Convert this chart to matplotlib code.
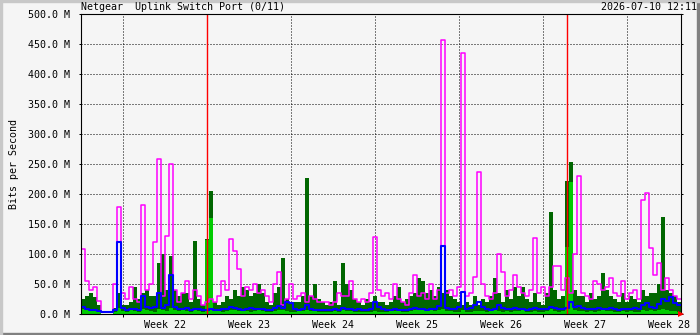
import numpy as np
import pandas as pd
import matplotlib
matplotlib.use("Agg")
import matplotlib.pyplot as plt
import matplotlib.dates as mdates
from matplotlib.patches import Rectangle

# -- Data (M bits/s), one value per 8 hours ---------------------------------
t_start = pd.Timestamp("2026-05-21 12:11")
t_end = pd.Timestamp("2026-07-10 12:11")
stamp = "2026-07-10 12:11"
title = "Netgear  Uplink Switch Port (0/11)"

max_out = [108, 55, 40, 45, 22, 3, 3, 3, 50, 178, 35, 25, 45, 25, 20, 182, 40, 50, 120, 258, 30, 130, 250, 40, 20,
           35, 55, 25, 40, 30, 15, 20, 25, 20, 30, 55, 40, 125, 105, 75, 30, 45, 40, 50, 35, 40, 30, 20, 50, 70,
           15, 25, 50, 25, 30, 35, 20, 30, 25, 20, 20, 20, 15, 20, 35, 30, 30, 55, 25, 20, 25, 20, 35, 128, 40,
           30, 35, 25, 50, 25, 20, 15, 35, 65, 30, 35, 25, 50, 25, 40, 456, 35, 40, 30, 45, 435, 30, 35, 62, 236,
           50, 30, 25, 35, 100, 70, 30, 40, 65, 45, 35, 30, 40, 126, 35, 45, 30, 45, 80, 80, 40, 60, 35, 100, 230,
           35, 30, 25, 55, 50, 40, 45, 60, 35, 30, 55, 25, 35, 40, 25, 190, 202, 110, 65, 85, 40, 60, 40, 30, 25]

max_in = [25, 30, 35, 28, 15, 0, 0, 0, 10, 35, 15, 15, 20, 45, 25, 35, 40, 30, 30, 85, 100, 40, 97, 40, 30,
          35, 35, 20, 122, 25, 15, 125, 205, 20, 15, 20, 30, 25, 40, 30, 45, 40, 30, 35, 50, 35, 20, 15, 35, 45,
          93, 25, 20, 20, 20, 30, 226, 30, 50, 25, 20, 15, 20, 55, 15, 85, 50, 40, 25, 20, 15, 25, 20, 30, 20,
          20, 15, 20, 30, 45, 20, 25, 30, 35, 60, 55, 35, 40, 30, 45, 35, 40, 30, 25, 20, 15, 20, 15, 30, 15,
          25, 20, 30, 60, 35, 20, 40, 25, 45, 30, 45, 25, 20, 35, 20, 15, 35, 170, 40, 25, 30, 222, 253, 40, 30,
          30, 20, 35, 25, 30, 68, 40, 30, 25, 20, 35, 20, 30, 25, 20, 40, 30, 35, 35, 50, 162, 40, 35, 30, 20]

avg_in = [8, 6, 5, 6, 4, 0, 0, 0, 3, 10, 5, 4, 6, 5, 4, 8, 6, 5, 4, 9, 7, 5, 10, 6, 5,
          6, 5, 4, 7, 5, 4, 123, 160, 6, 5, 4, 5, 6, 7, 5, 6, 5, 4, 5, 6, 5, 4, 4, 5, 6,
          7, 5, 4, 4, 5, 5, 6, 5, 6, 4, 4, 3, 4, 5, 4, 6, 5, 5, 4, 4, 3, 4, 4, 5, 4,
          4, 4, 5, 5, 6, 4, 4, 5, 6, 7, 6, 5, 6, 5, 6, 8, 5, 5, 4, 4, 6, 4, 4, 5, 5,
          5, 4, 5, 6, 5, 4, 5, 4, 5, 5, 6, 4, 4, 5, 4, 4, 5, 9, 5, 4, 5, 112, 220, 6, 5,
          5, 4, 5, 4, 5, 7, 5, 5, 4, 4, 5, 4, 5, 4, 4, 6, 5, 6, 5, 6, 8, 6, 5, 5, 4]

avg_out = [12, 8, 7, 6, 5, 3, 3, 3, 6, 120, 10, 6, 8, 9, 7, 30, 12, 10, 12, 35, 10, 15, 65, 12, 8,
           8, 10, 7, 9, 8, 6, 7, 8, 6, 7, 9, 8, 12, 10, 8, 7, 9, 10, 8, 9, 8, 7, 6, 10, 14,
           10, 20, 18, 8, 7, 9, 15, 8, 7, 6, 6, 7, 6, 8, 7, 10, 9, 8, 7, 8, 6, 7, 9, 20, 12,
           8, 7, 6, 9, 7, 6, 6, 8, 10, 9, 8, 7, 9, 8, 14, 113, 10, 9, 8, 12, 37, 9, 10, 15, 20,
           12, 8, 7, 9, 15, 10, 8, 9, 10, 8, 9, 7, 8, 10, 8, 9, 8, 12, 10, 9, 8, 10, 20, 12, 14,
           10, 8, 9, 8, 10, 9, 8, 10, 8, 7, 9, 8, 8, 10, 9, 15, 18, 12, 10, 16, 25, 22, 28, 18, 15]

month_marks = ["2026-06-01", "2026-07-01"]
y_ticks = np.arange(0, 501, 50)

# -- Figure -------------------------------------------------------------
W, H = 700, 335
bg = "#f5f5f5"
fig = plt.figure(figsize=(W / 100, H / 100), dpi=100, facecolor=bg)
ax = fig.add_axes([81 / W, (H - 314) / H, 600 / W, 300 / H], facecolor=bg)

# frame around the picture
fig.patches.append(Rectangle((0, 0), 1, 2 / H, transform=fig.transFigure, color="#808080", zorder=0))
fig.patches.append(Rectangle((1 - 3 / W, 0), 3 / W, 1, transform=fig.transFigure, color="#808080", zorder=0))
fig.patches.append(Rectangle((0, 1 - 2 / H), 1, 2 / H, transform=fig.transFigure, color="#c8c8c8", zorder=0))
fig.patches.append(Rectangle((0, 0), 2 / W, 1, transform=fig.transFigure, color="#c8c8c8", zorder=0))

x = pd.date_range(t_start, periods=len(max_out) + 1, freq="8h")

def ext(v):
    v = np.asarray(v, dtype=float)
    return np.append(v, v[-1])

px = 0.72  # one pixel in points
ax.fill_between(x, ext(max_in), step="post", color="#006600", lw=0, zorder=2)
ax.fill_between(x, ext(avg_in), step="post", color="#00cc00", lw=0, zorder=3)
ax.plot(x, ext(max_out), drawstyle="steps-post", color="#ff00ff", lw=1.1, snap=True, zorder=4)
ax.plot(x, ext(avg_out), drawstyle="steps-post", color="#0000ff", lw=1.5, snap=True, zorder=5)

for m in month_marks:
    ax.axvline(pd.Timestamp(m), color="#ff0000", lw=1.0, snap=True, zorder=6)

ax.set_xlim(t_start, t_end)
ax.set_ylim(0, 500)

# grid
ax.xaxis.set_major_locator(mdates.WeekdayLocator(byweekday=mdates.MO))
ax.xaxis.set_major_formatter(plt.NullFormatter())
ax.set_yticks(y_ticks)
ax.set_yticklabels([f"{v:.1f} M" for v in y_ticks])
ax.grid(True, which="major", color="black", lw=px, ls=(0, (1, 2)), zorder=1)
ax.set_axisbelow(True)

mono = "DejaVu Sans Mono"
fs = 7.2

# week labels at midweek (Thursday noon)
minor = [t + pd.Timedelta(hours=12) for t in pd.date_range("2026-05-28", periods=7, freq="7D")]
ax.set_xticks(minor, minor=True)
ax.set_xticklabels([f"Week {t.isocalendar()[1]}" for t in minor], minor=True,
                   fontfamily=mono, fontsize=fs)
ax.tick_params(axis="x", which="minor", length=0, pad=4.3)
ax.tick_params(axis="x", which="major", length=2.2, width=px, direction="out")
ax.tick_params(axis="y", which="major", length=1.5, width=px, direction="out", right=True, pad=6.5,
               labelsize=fs)
for lab in ax.get_yticklabels():
    lab.set_fontfamily(mono)

for s in ax.spines.values():
    s.set_linewidth(0.8)
    s.set_color("black")
    s.set_zorder(7)

ax.plot([1.0], [0.0], marker=">", color="#ff0000", ms=4.5, mew=0, transform=ax.transAxes,
        clip_on=False, zorder=8)

fig.text(14 / W, 1 - 164 / H, "Bits per Second", rotation=90, ha="center", va="center",
         fontfamily=mono, fontsize=fs)
fig.text(81 / W, 1 - 7.5 / H, title, ha="left", va="center", fontfamily=mono, fontsize=fs)
fig.text(697 / W, 1 - 7.5 / H, stamp, ha="right", va="center", fontfamily=mono, fontsize=fs)

fig.savefig("out.png", dpi=100, facecolor=bg)
